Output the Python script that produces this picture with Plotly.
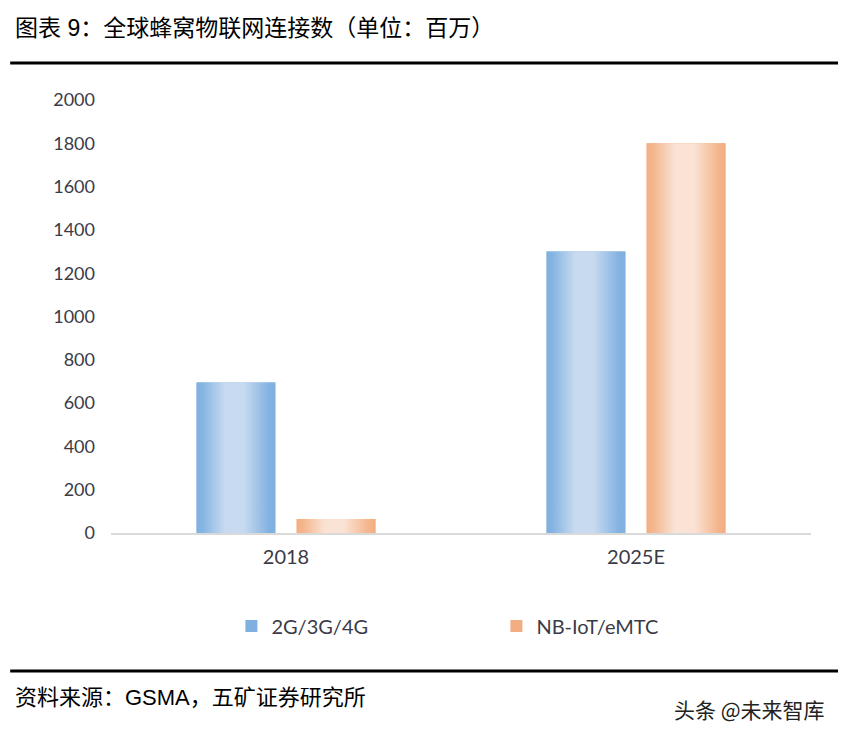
import plotly.graph_objects as go

categories = ["2018", "2025E"]
series_names = ["2G/3G/4G", "NB-IoT/eMTC"]
values_cellular = [695, 1300]
values_nbiot = [65, 1800]
y_ticks = [0, 200, 400, 600, 800, 1000, 1200, 1400, 1600, 1800, 2000]

title_text = "图表 9：全球蜂窝物联网连接数（单位：百万）"
source_text = "资料来源：GSMA，五矿证券研究所"
watermark_text = "头条 @未来智库"

edge_colors = ["#7FB0E0", "#F2AE80"]
scales = [
    [[0, "#7FB0E0"], [0.08, "#86B5E2"], [0.36, "#C7DAF0"], [0.6, "#C7DAF0"], [0.92, "#82B2E1"], [1, "#7FB0E0"]],
    [[0, "#F2AE80"], [0.08, "#F4B58C"], [0.36, "#FAE3D5"], [0.6, "#FAE3D5"], [0.92, "#F4B48A"], [1, "#F2AE80"]],
]
offsets = [-0.143, 0.143]
bar_w = 0.225

font_main = "Lato, 'Noto Sans', sans-serif"
font_cjk = "'Liberation Sans', 'Noto Sans CJK SC', sans-serif"
txt_color = "#3b3b48"

fig = go.Figure()
series = [values_cellular, values_nbiot]
xs = list(range(len(categories)))

for s, (name, vals) in enumerate(zip(series_names, series)):
    fig.add_trace(go.Bar(
        x=[x + offsets[s] for x in xs], y=vals, width=bar_w, name=name,
        marker=dict(color=edge_colors[s], line=dict(width=0)),
        showlegend=True, hoverinfo="skip",
    ))

for s, vals in enumerate(series):
    for i, v in zip(xs, vals):
        cx = i + offsets[s]
        x0, x1 = cx - bar_w / 2, cx + bar_w / 2
        fig.add_trace(go.Scatter(
            x=[x0, x1, x1, x0, x0], y=[0, 0, v, v, 0], mode="lines",
            line=dict(width=0), fill="toself",
            fillgradient=dict(type="horizontal", colorscale=scales[s]),
            showlegend=False, hoverinfo="skip",
        ))

fig.update_layout(
    width=838, height=731,
    margin=dict(l=103, r=35, t=92, b=206),
    paper_bgcolor="white", plot_bgcolor="white",
    barmode="overlay",
    showlegend=True,
    legend=dict(
        orientation="h", x=0.172, xanchor="left", y=-0.2148, yanchor="middle",
        font=dict(family=font_main, size=20, color=txt_color),
        entrywidth=220, entrywidthmode="pixels", itemsizing="constant",
    ),
    xaxis=dict(
        range=[-0.5, 1.5], tickmode="array", tickvals=xs, ticktext=categories,
        showgrid=False, zeroline=False, showline=True, linecolor="#d9d9d9", linewidth=2,
        ticks="", tickfont=dict(family=font_main, size=20, color=txt_color),
        ticklabelstandoff=5,
    ),
    yaxis=dict(
        range=[0, 2000], tickmode="array", tickvals=y_ticks,
        showgrid=False, zeroline=False, showline=False, ticks="",
        tickfont=dict(family=font_main, size=18, color=txt_color),
        ticklabelstandoff=15,
    ),
    shapes=[
        dict(type="line", xref="paper", yref="paper", x0=-0.144, x1=1.1, y0=1.0855, y1=1.0855,
             line=dict(color="black", width=3)),
        dict(type="line", xref="paper", yref="paper", x0=-0.144, x1=1.1, y0=-0.3187, y1=-0.3187,
             line=dict(color="black", width=3)),
    ],
    annotations=[
        dict(text=title_text, xref="paper", yref="paper", x=-0.14, y=1.166, xanchor="left", yanchor="middle",
             showarrow=False, font=dict(family=font_cjk, size=23, color="black")),
        dict(text=source_text, xref="paper", yref="paper", x=-0.14, y=-0.381, xanchor="left", yanchor="middle",
             showarrow=False, font=dict(family=font_cjk, size=22, color="black")),
        dict(text=watermark_text, xref="paper", yref="paper", x=1.023, y=-0.4065, xanchor="right", yanchor="middle",
             showarrow=False, font=dict(family="'Noto Sans CJK SC', sans-serif", size=21, color="#222222")),
    ],
)

fig.write_html("out.html")
